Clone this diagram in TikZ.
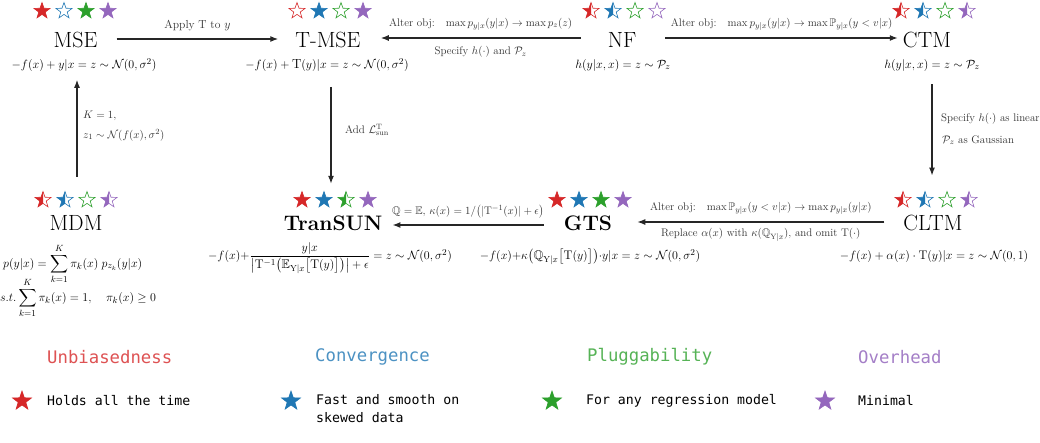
\documentclass[tikz,border=0pt]{standalone}
\usepackage{amsmath,amssymb}
\usepackage{fontspec}
\newfontfamily\monofam{DejaVu Sans Mono}
\usetikzlibrary{shapes.geometric,arrows.meta,calc}
\definecolor{sred}{RGB}{214,39,40}
\definecolor{sblue}{RGB}{31,119,180}
\definecolor{sgreen}{RGB}{44,160,44}
\definecolor{spurple}{RGB}{148,103,189}
\colorlet{sc1}{sred}\colorlet{sc2}{sblue}\colorlet{sc3}{sgreen}\colorlet{sc4}{spurple}
\tikzset{
  starshape/.style={star, star points=5, star point ratio=2.5, minimum size=17pt, inner sep=0pt, line width=0.6pt},
  pics/fst/.style={code={\node[starshape, draw=#1, fill=#1] (-s) {};}},
  pics/est/.style={code={\node[starshape, draw=#1, fill=white] (-s) {};}},
  pics/hst/.style={code={\begin{scope}\clip (-12,-12) rectangle (0,12);\node[starshape, fill=#1] (-f) {};\end{scope}\node[starshape, draw=#1] (-s) {};}},
  pics/lst/.style={code={\node[starshape, minimum size=20pt, draw=#1, fill=#1] (-s) {};}},
  title/.style={font=\fontsize{22}{26}\selectfont, inner sep=0pt},
  btitle/.style={font=\fontsize{21}{26}\selectfont\bfseries, inner sep=0pt},
  formula/.style={font=\fontsize{12.5}{15}\selectfont, inner sep=0pt},
  tformula/.style={font=\fontsize{13.2}{15}\selectfont, inner sep=0pt},
  lbl/.style={font=\fontsize{11}{13}\selectfont, text=black!80, inner sep=0pt},
  arr/.style={-{Latex[length=8pt,width=6pt]}, line width=1.3pt, draw=black!85},
  lhead/.style={font=\monofam\fontsize{17.3}{20}\selectfont, inner sep=0pt, anchor=west},
  litem/.style={font=\monofam\fontsize{13.2}{18}\selectfont, inner sep=0pt, anchor=west, align=left},
}
\newcommand\starrow[4]{\foreach \stype [count=\sidx] in {#4}{%
  \edef\starcmd{\noexpand\pic (#1\sidx) at ({#2+22*(\sidx-2.5)},#3) {\stype=sc\sidx};}\starcmd}}
\begin{document}
\begin{tikzpicture}[x=1pt,y=-1pt]
\fill[white] (0,0) rectangle (1040,442);
\useasboundingbox (0,0) rectangle (1040,442);

% ---- top row
\starrow{mseS}{75}{11}{fst,est,fst,fst}
\node[title] (mse) at (75.5,40) {MSE};
\node[tformula] (msef) at (84,65) {$-f(x)+y|x = z\sim\mathcal{N}(0,\sigma^2)$};

\starrow{tmseS}{330}{11}{est,fst,est,fst}
\node[title] (tmse) at (328,40) {T-MSE};
\node[tformula] (tmsef) at (327,65) {$-f(x)+\mathrm{T}(y)|x = z\sim\mathcal{N}(0,\sigma^2)$};

\starrow{nfS}{624}{11}{hst,hst,est,est}
\node[title] (nf) at (622,40) {NF};
\node[tformula] (nff) at (623,65) {$h(y|x,x) = z\sim\mathcal{P}_z$};

\starrow{ctmS}{934}{11}{hst,hst,est,hst}
\node[title] (ctm) at (927,40) {CTM};
\node[tformula] (ctmf) at (932,65) {$h(y|x,x) = z\sim\mathcal{P}_z$};

% ---- bottom row
\starrow{mdmS}{76}{200}{hst,hst,est,hst}
\node[title] (mdm) at (76,223) {MDM};
\node[formula, anchor=west] (mdmf1) at (3,264) {$\displaystyle p(y|x) = \sum_{k=1}^{K}\pi_k(x)\; p_{z_k}(y|x)$};
\node[formula, anchor=west] (mdmf2) at (0,298) {$\displaystyle s.t.\sum_{k=1}^{K}\pi_k(x) = 1,\quad \pi_k(x)\geq 0$};

\starrow{tsS}{335}{200}{fst,fst,hst,fst}
\node[btitle] (ts) at (333,223) {TranSUN};
\node[formula] (tsf) at (330,258) {$-f(x){+}\dfrac{y|x}{\big|\mathrm{T}^{-1}\big(\mathbb{E}_{\mathrm{Y}|x}\big[\mathrm{T}(y)\big]\big)\big|+\epsilon} = z\sim\mathcal{N}(0,\sigma^2)$};

\starrow{gtsS}{590}{200}{fst,fst,fst,fst}
\node[btitle] (gts) at (588,223) {GTS};
\node[formula] (gtsf) at (590,257) {$-f(x){+}\kappa\big(\mathbb{Q}_{\mathrm{Y}|x}\big[\mathrm{T}(y)\big]\big){\cdot}y|x = z\sim\mathcal{N}(0,\sigma^2)$};

\starrow{cltmS}{936}{200}{hst,hst,est,hst}
\node[title] (cltm) at (933,223) {CLTM};
\node[formula] (cltmf) at (934,256) {$-f(x)+\alpha(x)\cdot\mathrm{T}(y)|x = z\sim\mathcal{N}(0,1)$};

% ---- connectors
\draw[arr] ($(mse.east)+(19,-1)$) -- ($(tmse.west)+(-17,-1)$)
  node[lbl, midway, above=7pt, font=\fontsize{11.6}{13}\selectfont] (l1) {Apply T to $y$};
\draw[arr] ($(nf.west)+(-27,-2)$) -- ($(tmse.east)+(20,-2)$)
  node[lbl, midway, above=7pt] (l2) {Alter obj:\quad $\max p_{y|x}(y|x)\rightarrow\max p_z(z)$}
  node[lbl, midway, below=8pt] (l3) {Specify $h(\cdot)$ and $\mathcal{P}_z$};
\draw[arr] ($(nf.east)+(29,-2)$) -- ($(ctm.west)+(-5,-2)$)
  node[lbl, midway, above=7pt] (l4) {Alter obj:\quad $\max p_{y|x}(y|x)\rightarrow\max \mathbb{P}_{y|x}(y<v|x)$};
\draw[arr] ($(ctmf.south)+(0,13)$) -- ($(cltmS2-s.north -| ctmf.south)+(0,-15)$);
\node[lbl, anchor=west] (l5) at (941,119) {Specify $h(\cdot)$ as linear};
\node[lbl, anchor=west] (l6) at (942,140) {$\mathcal{P}_z$ as Gaussian};
\draw[arr] ($(cltm.west)+(-19,-1)$) -- ($(gts.east)+(25,-1)$)
  node[lbl, midway, above=7pt] (l7) {Alter obj:\quad $\max \mathbb{P}_{y|x}(y<v|x)\rightarrow\max p_{y|x}(y|x)$}
  node[lbl, midway, below=6pt] (l8) {Replace $\alpha(x)$ with $\kappa(\mathbb{Q}_{\mathrm{Y}|x})$, and omit $\mathrm{T}(\cdot)$};
\draw[arr] ($(gts.west)+(-20,2)$) -- ($(ts.east)+(10,2)$)
  node[lbl, midway, above=6pt] (l9) {$\mathbb{Q}=\mathbb{E},\,\kappa(x)=1/\big(|\mathrm{T}^{-1}(x)|+\epsilon\big)$};
\draw[arr] ($(tmsef.south)+(4,15)$) -- ($(tmsef.south)+(4,112)$);
\node[lbl, anchor=west] (l10) at (345,130) {Add $\mathcal{L}_{\text{sun}}^{\text{T}}$};
\draw[arr] ($(mdmS2-s.north)+(12,-14)$) -- ($(mdmS2-s.north |- msef.south)+(12,8)$);
\node[lbl, anchor=west] (l11) at (83,116) {$K=1,$};
\node[lbl, anchor=west] (l12) at (83,135) {$z_1\sim\mathcal{N}(f(x),\sigma^2)$};

% ---- legend
\node[lhead, text=sred!80!white] (h1) at (47,357) {Unbiasedness};
\node[lhead, text=sblue!80!white] (h2) at (315,357) {Convergence};
\node[lhead, text=sgreen!80!white] (h3) at (587,357) {Pluggability};
\node[lhead, text=spurple!85!white] (h4) at (858,357) {Overhead};
\pic (k1) at (22,401) {lst=sred};
\pic (k2) at (291,401) {lst=sblue};
\pic (k3) at (552,401) {lst=sgreen};
\pic (k4) at (825,401) {lst=spurple};
\node[litem] (t1) at (47,401) {Holds all the time};
\node[litem] (t2) at (316,409) {Fast and smooth on\\skewed data};
\node[litem] (t3) at (586,401) {For any regression model};
\node[litem] (t4) at (858,401) {Minimal};
\end{tikzpicture}
\end{document}
